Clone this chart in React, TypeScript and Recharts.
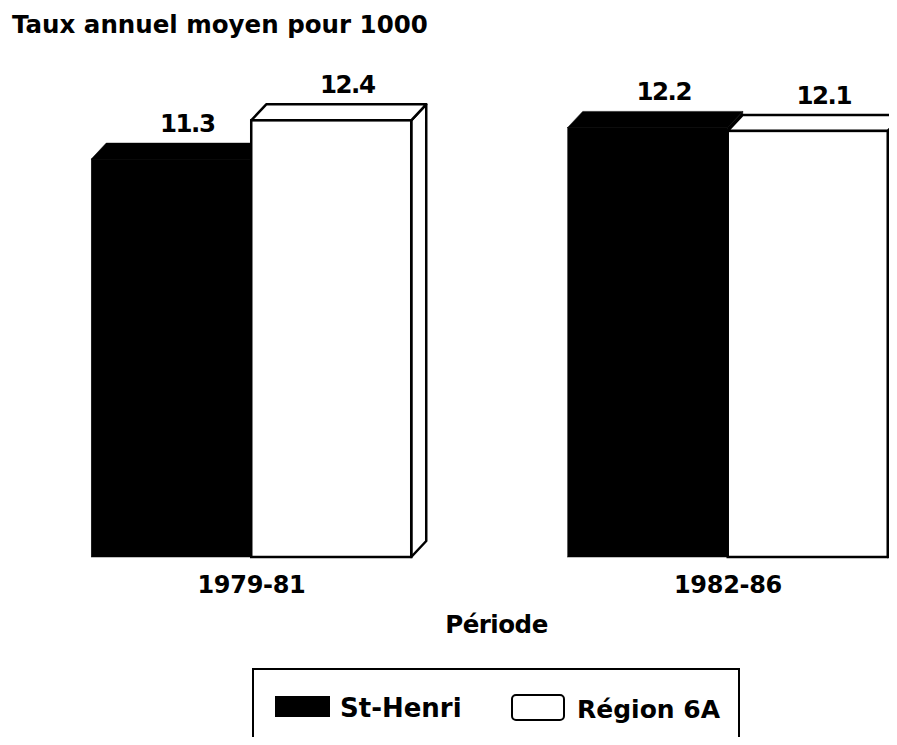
import React from 'react';
import { BarChart, Bar, XAxis, YAxis, Legend, LabelList } from 'recharts';

const categories = ['1979-81', '1982-86'];
const stHenri = [11.3, 12.2];
const region6A = [12.4, 12.1];
const seriesNames = ['St-Henri', 'Région 6A'];
const titleText = 'Taux annuel moyen pour 1000';
const xAxisTitle = 'Période';

const data = categories.map((c, i) => ({
  idx: i,
  period: c,
  stHenri: stHenri[i],
  region6A: region6A[i],
}));

const FONT = '"DejaVu Sans", "Liberation Sans", Arial, sans-serif';
const DX = 15;
const DY = 16;

const makeBox = (dark: boolean) => (props: any) => {
  const { x, y, width, height } = props;
  if (width == null || height == null) return null;
  const x2 = x + width;
  const y2 = y + height;
  const fill = dark ? '#000' : '#fff';
  const stroke = '#000';
  const sw = dark ? 0.5 : 2.5;
  return (
    <g>
      <polygon
        points={`${x2},${y} ${x2 + DX},${y - DY} ${x2 + DX},${y2 - DY} ${x2},${y2}`}
        fill={fill}
        stroke={stroke}
        strokeWidth={sw}
        strokeLinejoin="round"
      />
      <polygon
        points={`${x},${y} ${x + DX},${y - DY} ${x2 + DX},${y - DY} ${x2},${y}`}
        fill={fill}
        stroke={stroke}
        strokeWidth={sw}
        strokeLinejoin="round"
      />
      <rect x={x} y={y} width={width} height={height} fill={fill} stroke={stroke} strokeWidth={sw} />
    </g>
  );
};

const ValueLabel = (props: any) => {
  const { x, y, width, value } = props;
  return (
    <text
      x={x + width / 2 + DX + 1}
      y={y - DY - 11}
      textAnchor="middle"
      fontFamily={FONT}
      fontWeight="bold"
      fontSize={24.5}
      letterSpacing={-1.5}
      fill="#000"
    >
      {Number(value).toFixed(1)}
    </text>
  );
};

const PeriodTick = (props: any) => {
  const { x, y, payload } = props;
  return (
    <text
      x={x}
      y={y + 36}
      textAnchor="middle"
      fontFamily={FONT}
      fontWeight="bold"
      fontSize={24}
      letterSpacing={-0.3}
      fill="#000"
    >
      {categories[payload.value]}
    </text>
  );
};

const AxisTitle = (props: any) => {
  const vb = props.viewBox || {};
  const y0 = vb.y != null ? vb.y : 549;
  return (
    <text
      x={488.5}
      y={y0 + 76}
      textAnchor="middle"
      fontFamily={FONT}
      fontWeight="bold"
      fontSize={24.5}
      letterSpacing={-0.5}
      fill="#000"
    >
      {xAxisTitle}
    </text>
  );
};

const LegendBox = () => (
  <svg width={488} height={77} style={{ display: 'block' }}>
    <rect x={1} y={1} width={486} height={90} fill="#fff" stroke="#000" strokeWidth={2} />
    <rect x={23} y={28} width={55} height={21} fill="#000" />
    <text x={88} y={49} fontFamily={FONT} fontWeight="bold" fontSize={26} fill="#000">
      {seriesNames[0]}
    </text>
    <rect x={260} y={27} width={52} height={25} rx={4} ry={4} fill="#fff" stroke="#000" strokeWidth={2} />
    <text x={325} y={50} fontFamily={FONT} fontWeight="bold" fontSize={25} fill="#000">
      {seriesNames[1]}
    </text>
  </svg>
);

export default function App() {
  return (
    <div style={{ width: 889, height: 737, marginBottom: -8, overflow: 'hidden', background: '#fff' }}>
      <BarChart
        width={889}
        height={737}
        data={data}
        margin={{ top: 56, right: 0, bottom: 98, left: 0 }}
        barGap={0}
        barSize={160}
      >
        <text x={4} y={25} fontFamily={FONT} fontWeight="bold" fontSize={24.5} fill="#000">
          {titleText}
        </text>
        <XAxis
          dataKey="idx"
          type="number"
          domain={[-0.511, 1.3547]}
          ticks={[0, 1]}
          interval={0}
          axisLine={false}
          tickLine={false}
          tickSize={0}
          tickMargin={0}
          height={90}
          tick={<PeriodTick />}
          label={<AxisTitle />}
        />
        <YAxis hide domain={[0, 14]} />
        <Legend
          layout="horizontal"
          verticalAlign="middle"
          align="center"
          wrapperStyle={{ left: 244, top: 660, width: 488, height: 77 }}
          content={() => <LegendBox />}
        />
        <Bar dataKey="stHenri" name={seriesNames[0]} fill="#000" shape={makeBox(true)} isAnimationActive={false}>
          <LabelList dataKey="stHenri" content={<ValueLabel />} />
        </Bar>
        <Bar dataKey="region6A" name={seriesNames[1]} fill="#fff" shape={makeBox(false)} isAnimationActive={false}>
          <LabelList dataKey="region6A" content={<ValueLabel />} />
        </Bar>
      </BarChart>
    </div>
  );
}
